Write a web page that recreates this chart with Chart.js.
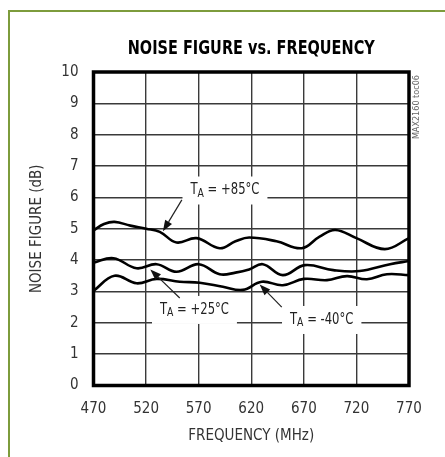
<!DOCTYPE html>
<html>
<head>
<meta charset="utf-8">
<script src="https://cdn.jsdelivr.net/npm/chart.js@4.4.1/dist/chart.umd.min.js"></script>
<style>
  html, body { margin: 0; padding: 0; background: #fff; }
  #wrap { width: 445px; height: 457px; }
</style>
</head>
<body>
<div id="wrap"><canvas id="nfChart" width="445" height="457"></canvas></div>
<script>
const FONT = "'Liberation Sans Narrow', 'DejaVu Sans Condensed', 'Liberation Sans', sans-serif";

// frequency (MHz) / noise figure (dB)
const freq85 = [470, 480, 490, 505, 520, 533, 549, 568, 590, 605, 618, 644, 668, 685, 700, 720, 747, 770];
const nf85   = [4.95, 5.15, 5.22, 5.1, 5.0, 4.9, 4.56, 4.7, 4.38, 4.6, 4.72, 4.6, 4.38, 4.75, 4.96, 4.7, 4.35, 4.7];

const freq25 = [470, 489, 511, 530, 549, 570, 590, 605, 618, 631, 650, 671, 698, 723, 752, 770];
const nf25   = [3.92, 4.06, 3.74, 3.87, 3.63, 3.87, 3.55, 3.6, 3.7, 3.87, 3.52, 3.84, 3.68, 3.65, 3.87, 3.97];

const freqM40 = [470, 490, 511, 530, 552, 571, 593, 612, 630, 650, 670, 692, 711, 730, 749, 770];
const nfM40   = [3.02, 3.5, 3.26, 3.4, 3.31, 3.28, 3.15, 3.05, 3.31, 3.2, 3.4, 3.36, 3.49, 3.39, 3.55, 3.52];

const xTicks = [470, 520, 570, 620, 670, 720, 770];
const yTicks = [0, 1, 2, 3, 4, 5, 6, 7, 8, 9, 10];

const chartTitle = "NOISE FIGURE vs. FREQUENCY";
const partNo = "MAX2160 toc06";

// curve labels: text, label centre and arrow (tail -> head), all in data units
const labels = [
  { sub: "A", rest: " = +85°C", at: [595, 6.22], from: [554, 5.92], to: [536, 4.92] },
  { sub: "A", rest: " = +25°C", at: [566, 2.41], from: [552, 2.79], to: [524, 3.7] },
  { sub: "A", rest: " = -40°C", at: [687, 2.09], from: [649, 2.5], to: [628, 3.22] }
];

function toPoints(xs, ys) {
  return xs.map((x, i) => ({ x: x, y: ys[i] }));
}

function drawArrow(ctx, x1, y1, x2, y2) {
  const ang = Math.atan2(y2 - y1, x2 - x1);
  const len = 11, half = 4;
  const bx = x2 - len * Math.cos(ang), by = y2 - len * Math.sin(ang);
  ctx.beginPath();
  ctx.moveTo(x1, y1);
  ctx.lineTo(bx, by);
  ctx.stroke();
  ctx.beginPath();
  ctx.moveTo(x2, y2);
  ctx.lineTo(bx + half * Math.sin(ang), by - half * Math.cos(ang));
  ctx.lineTo(bx - half * Math.sin(ang), by + half * Math.cos(ang));
  ctx.closePath();
  ctx.fill();
}

const SQUEEZE = 0.86;

const decor = {
  id: "decor",
  beforeDraw(chart) {
    const ctx = chart.ctx;
    ctx.save();
    ctx.fillStyle = "#fff";
    ctx.fillRect(0, 0, chart.width, chart.height);
    // green frame
    ctx.strokeStyle = "#7d9c3c";
    ctx.lineWidth = 2;
    ctx.beginPath();
    ctx.moveTo(9, chart.height);
    ctx.lineTo(9, 11);
    ctx.lineTo(chart.width, 11);
    ctx.stroke();

    // condensed bold title
    const a = chart.chartArea;
    ctx.font = "bold 20px " + FONT;
    const tw = ctx.measureText(chartTitle).width;
    ctx.translate((a.left + a.right) / 2, 54);
    ctx.scale(247 / tw, 1);
    ctx.fillStyle = "#000";
    ctx.textAlign = "center";
    ctx.textBaseline = "alphabetic";
    ctx.fillText(chartTitle, 0, 0);
    ctx.restore();
  },
  afterDatasetsDraw(chart) {
    const ctx = chart.ctx;
    const xs = chart.scales.x, ys = chart.scales.y;
    const a = chart.chartArea;
    ctx.save();

    labels.forEach(l => {
      const cx = xs.getPixelForValue(l.at[0]);
      const cy = ys.getPixelForValue(l.at[1]);
      ctx.font = "15px " + FONT;
      const wT = ctx.measureText("T").width;
      const wR = ctx.measureText(l.rest).width;
      ctx.font = "12px " + FONT;
      const wA = ctx.measureText(l.sub).width;
      const w = (wT + wA + wR) * SQUEEZE;
      ctx.fillStyle = "#fff";
      ctx.fillRect(cx - w / 2 - 8, cy - 14, w + 16, 28);

      ctx.save();
      ctx.translate(cx - w / 2, cy);
      ctx.scale(SQUEEZE, 1);
      ctx.fillStyle = "#222";
      ctx.textBaseline = "middle";
      ctx.textAlign = "left";
      ctx.font = "15px " + FONT;
      ctx.fillText("T", 0, 0);
      ctx.font = "12px " + FONT;
      ctx.fillText(l.sub, wT, 3);
      ctx.font = "15px " + FONT;
      ctx.fillText(l.rest, wT + wA, 0);
      ctx.restore();

      ctx.strokeStyle = "#222";
      ctx.fillStyle = "#111";
      ctx.lineWidth = 1.2;
      drawArrow(ctx,
        xs.getPixelForValue(l.from[0]), ys.getPixelForValue(l.from[1]),
        xs.getPixelForValue(l.to[0]), ys.getPixelForValue(l.to[1]));
    });

    // heavy plot border
    ctx.strokeStyle = "#000";
    ctx.lineWidth = 3.5;
    ctx.strokeRect(a.left, a.top, a.right - a.left, a.bottom - a.top);

    // part number along the right edge, reading upward
    ctx.translate(a.right + 8, a.top + 3);
    ctx.rotate(-Math.PI / 2);
    ctx.font = "9px " + FONT;
    ctx.fillStyle = "#666";
    ctx.textAlign = "right";
    ctx.textBaseline = "middle";
    ctx.fillText(partNo, 0, 0);
    ctx.restore();
  }
};

const line = (data) => ({
  data: data,
  borderColor: "#000",
  borderWidth: 2.6,
  pointRadius: 0,
  tension: 0.4,
  fill: false
});

new Chart(document.getElementById("nfChart"), {
  type: "line",
  data: {
    datasets: [
      line(toPoints(freq85, nf85)),
      line(toPoints(freq25, nf25)),
      line(toPoints(freqM40, nfM40))
    ]
  },
  options: {
    responsive: false,
    animation: false,
    layout: { padding: { left: 28, right: 36, top: 72, bottom: 12 } },
    plugins: {
      legend: { display: false },
      tooltip: { enabled: false },
      title: { display: false }
    },
    scales: {
      x: {
        type: "linear",
        min: 470,
        max: 770,
        afterBuildTicks: s => { s.ticks = xTicks.map(v => ({ value: v })); },
        afterFit: s => { s.height = 59.5; },
        ticks: { color: "#333", font: { family: FONT, size: 15 }, padding: 15, maxRotation: 0 },
        grid: { color: "#3a3a3a", lineWidth: 1.4, drawTicks: false },
        border: { display: false },
        title: {
          display: true,
          text: "FREQUENCY (MHz)",
          color: "#333",
          font: { family: FONT, size: 15 },
          padding: { top: 0, bottom: 0 }
        }
      },
      y: {
        min: 0,
        max: 10,
        afterBuildTicks: s => { s.ticks = yTicks.map(v => ({ value: v })); },
        afterFit: s => { s.width = 65.5; },
        ticks: { color: "#333", font: { family: FONT, size: 15 }, padding: 15 },
        grid: { color: "#3a3a3a", lineWidth: 1.4, drawTicks: false },
        border: { display: false },
        title: {
          display: true,
          text: "NOISE FIGURE (dB)",
          color: "#333",
          font: { family: FONT, size: 15 },
          padding: { top: 0, bottom: 0 }
        }
      }
    }
  },
  plugins: [decor]
});
</script>
</body>
</html>
